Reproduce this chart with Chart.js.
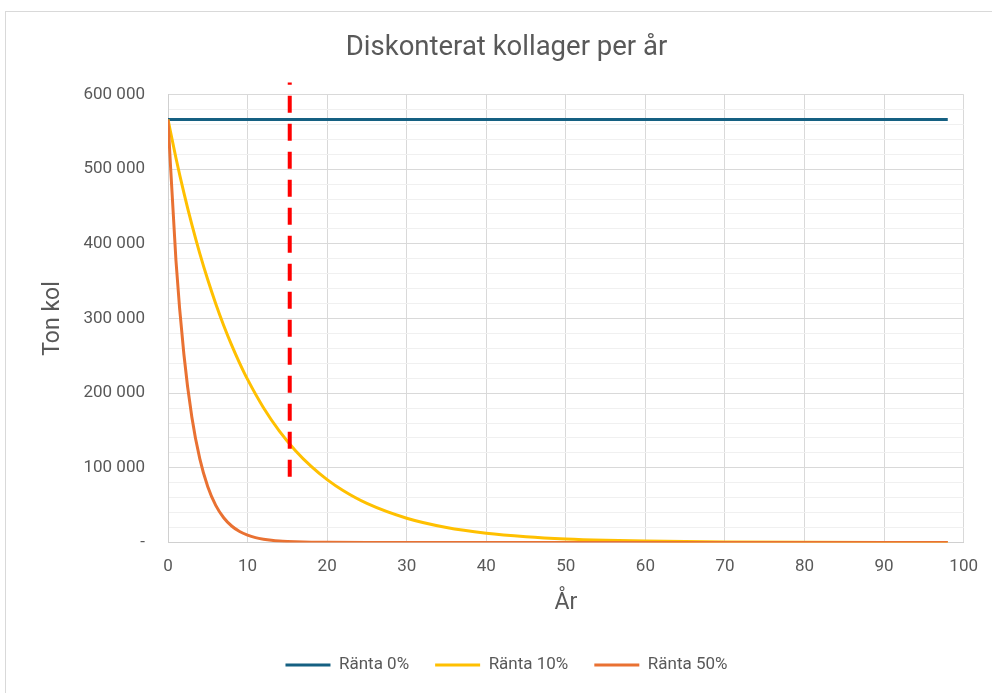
<!DOCTYPE html>
<html lang="sv">
<head>
<meta charset="utf-8">
<title>Diskonterat kollager per år</title>
<script src="https://cdn.jsdelivr.net/npm/chart.js@4.4.1/dist/chart.umd.min.js"></script>
<style>
  html, body { margin: 0; padding: 0; background: #ffffff; }
  #wrap { position: relative; width: 992px; height: 693px; overflow: hidden; background: #ffffff; }
  #frame { position: absolute; left: 5px; top: 11px; width: 1200px; height: 900px;
           border-left: 1px solid #d9d9d9; border-top: 1px solid #d9d9d9; pointer-events: none; }
  canvas { position: absolute; left: 0; top: 0; }
</style>
</head>
<body>
<div id="wrap">
  <canvas id="chart" width="992" height="693"></canvas>
  <div id="frame"></div>
</div>
<script>
// Discounted coal stock (tonnes) per year, at three discount rates
const seriesNames = ['Ränta 0%', 'Ränta 10%', 'Ränta 50%'];

const years0 = [0, 98];
const stock0 = [566500, 566500];

const years10 = [0, 1, 2, 3, 4, 5, 6, 7, 8, 9, 10, 12, 14, 16, 18, 20, 22, 25, 30, 35, 40, 45, 50, 55, 60, 65, 70, 80, 90, 98];
const stock10 = [566500, 515000, 468200, 425600, 386900, 351800, 319800, 290700, 264300, 240300,
                 218400, 180500, 149200, 123300, 101900, 84200, 69600, 52300, 32500, 20100,
                 12500, 7800, 4800, 3000, 1900, 1200, 700, 300, 100, 50];

const years50 = [0, 1, 2, 3, 4, 5, 6, 7, 8, 9, 10, 11, 12, 13, 14, 15, 16, 17, 18, 20, 25, 30, 40, 60, 80, 98];
const stock50 = [566500, 377700, 251800, 167800, 111900, 74600, 49700, 33200, 22100, 14700,
                 9800, 6500, 4400, 2900, 1900, 1300, 900, 600, 400, 200, 20, 0, 0, 0, 0, 0];

// Vertical marker at the chosen horizon
const markerYear = 15.3;
const markerRange = [88000, 616000];

const xTicks = [0, 10, 20, 30, 40, 50, 60, 70, 80, 90, 100];
const yMajorTicks = [0, 100000, 200000, 300000, 400000, 500000, 600000];

const pairs = (xs, ys) => xs.map((x, i) => ({ x: x, y: ys[i] }));

const textColor = '#595959';
const fontFamily = 'Roboto, "Liberation Sans", Arial, sans-serif';

function formatThousands(v) {
  if (v === 0) return '-';
  return String(v).replace(/\B(?=(\d{3})+(?!\d))/g, ' ');
}

const lineStyle = { pointRadius: 0, pointHoverRadius: 0, borderWidth: 3, fill: false, cubicInterpolationMode: 'monotone' };

new Chart(document.getElementById('chart'), {
  type: 'line',
  data: {
    datasets: [
      Object.assign({ label: seriesNames[0], data: pairs(years0, stock0), borderColor: '#156082', backgroundColor: '#156082', order: 3 }, lineStyle),
      Object.assign({ label: seriesNames[1], data: pairs(years10, stock10), borderColor: '#FFC000', backgroundColor: '#FFC000', order: 2 }, lineStyle),
      Object.assign({ label: seriesNames[2], data: pairs(years50, stock50), borderColor: '#E97132', backgroundColor: '#E97132', order: 1 }, lineStyle),
      {
        label: 'marker',
        data: [{ x: markerYear, y: markerRange[0] }, { x: markerYear, y: markerRange[1] }],
        borderColor: '#FF0000',
        backgroundColor: '#FF0000',
        borderWidth: 4,
        borderDash: [17, 11],
        pointRadius: 0,
        pointHoverRadius: 0,
        tension: 0,
        clip: false,
        order: 0
      }
    ]
  },
  options: {
    responsive: false,
    animation: false,
    events: [],
    layout: { padding: { left: 48, right: 27, top: 0, bottom: 9.5 } },
    plugins: {
      tooltip: { enabled: false },
      title: {
        display: true,
        text: 'Diskonterat kollager per år',
        color: textColor,
        font: { family: fontFamily, size: 27.5, weight: 'normal' },
        padding: { top: 31.5, bottom: 30 }
      },
      legend: {
        position: 'bottom',
        labels: {
          color: textColor,
          font: { family: fontFamily, size: 17 },
          boxWidth: 45,
          boxHeight: 3,
          padding: 26,
          sort: function (a, b) { return a.datasetIndex - b.datasetIndex; },
          generateLabels: function (chart) {
            return Chart.defaults.plugins.legend.labels.generateLabels(chart)
              .filter(item => item.datasetIndex < 3)
              .map(item => Object.assign(item, { lineWidth: 0, lineDash: [] }));
          }
        }
      }
    },
    scales: {
      x: {
        type: 'linear',
        min: 0,
        max: 100,
        afterFit: function (scale) { scale.height = 88; },
        afterBuildTicks: function (scale) { scale.ticks = xTicks.map(v => ({ value: v })); },
        ticks: {
          color: textColor,
          font: { family: fontFamily, size: 17 },
          padding: 14,
          maxRotation: 0,
          autoSkip: false
        },
        grid: { color: '#d9d9d9', lineWidth: 1, drawTicks: false },
        border: { color: '#d0d0d0', width: 1 },
        title: {
          display: true,
          text: 'År',
          color: textColor,
          font: { family: fontFamily, size: 23 },
          padding: { top: 0, bottom: 13.7 }
        }
      },
      y: {
        min: 0,
        max: 600000,
        afterFit: function (scale) { scale.width = 120; },
        ticks: {
          stepSize: 20000,
          autoSkip: false,
          color: textColor,
          font: { family: fontFamily, size: 17 },
          padding: 23,
          callback: function (v) { return yMajorTicks.includes(v) ? formatThousands(v) : ''; }
        },
        grid: {
          drawTicks: false,
          lineWidth: 1,
          color: function (ctx) { return yMajorTicks.includes(ctx.tick.value) ? '#d9d9d9' : '#f0f0f0'; }
        },
        border: { color: '#d0d0d0', width: 1 },
        title: {
          display: true,
          text: 'Ton kol',
          color: textColor,
          font: { family: fontFamily, size: 23 },
          padding: { top: -8.8, bottom: 0 }
        }
      }
    }
  }
});
</script>
</body>
</html>
